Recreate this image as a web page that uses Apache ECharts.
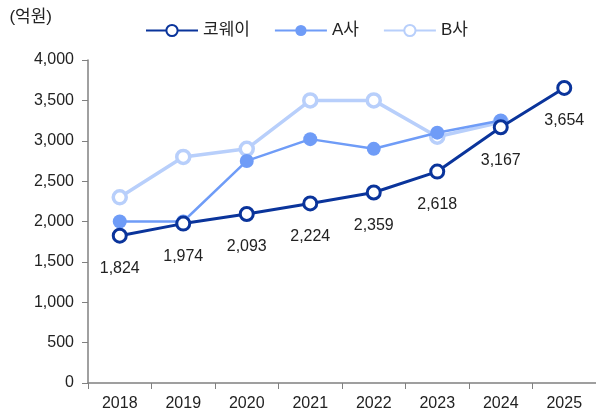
<!DOCTYPE html>
<html>
<head>
<meta charset="utf-8">
<script src="https://cdn.jsdelivr.net/npm/echarts@6/dist/echarts.min.js"></script>
<style>
  html, body { margin: 0; padding: 0; background: #fff; }
  #main { width: 596px; height: 418px; }
</style>
</head>
<body>
<div id="main"></div>
<script>
// 데이터
var years = ['2018', '2019', '2020', '2021', '2022', '2023', '2024', '2025'];
var coway = [1824, 1974, 2093, 2224, 2359, 2618, 3167, 3654];
var compA = [2000, 2000, 2750, 3020, 2900, 3100, 3250, null];
var compB = [2300, 2800, 2900, 3500, 3500, 3050, 3230, null];

var FONT = '"Liberation Sans", Arial, sans-serif';
var KFONT = '"Liberation Sans", "Noto Sans CJK KR", sans-serif';

var myChart = echarts.init(document.getElementById('main'));
myChart.setOption({
    animation: false,
    textStyle: { fontFamily: FONT },
    grid: { left: 88, right: 0, top: 60, bottom: 35 },
    legend: {
        top: 17,
        left: 140,
        itemWidth: 52,
        itemHeight: 14,
        itemGap: 24,
        textStyle: { fontSize: 17, color: '#222', fontFamily: KFONT },
        data: ['코웨이', 'A사', 'B사']
    },
    xAxis: {
        type: 'category',
        data: years,
        axisLine: { lineStyle: { color: '#808080', width: 1.5 } },
        axisTick: { show: true, length: 6, lineStyle: { color: '#808080' } },
        axisLabel: { fontSize: 16, color: '#222', margin: 13, fontFamily: FONT }
    },
    yAxis: {
        type: 'value',
        min: 0,
        max: 4000,
        interval: 500,
        name: '(억원)',
        nameLocation: 'end',
        nameGap: 34,
        nameTextStyle: { fontSize: 17, color: '#222', align: 'right', padding: [0, 36, 0, 0], fontFamily: KFONT },
        axisLine: { show: true, lineStyle: { color: '#808080', width: 1.5 } },
        axisTick: { show: true, length: 6, inside: false, lineStyle: { color: '#808080' } },
        splitLine: { show: false },
        axisLabel: {
            fontSize: 16, color: '#222', margin: 14, fontFamily: FONT,
            formatter: function (v) { return v.toLocaleString('en-US'); }
        }
    },
    series: [
        {
            name: 'B사',
            type: 'line',
            data: compB,
            z: 2,
            symbol: 'circle',
            symbolSize: 13,
            lineStyle: { color: '#b8cffb', width: 3.5 },
            itemStyle: { color: '#ffffff', borderColor: '#b8cffb', borderWidth: 3.5 }
        },
        {
            name: 'A사',
            type: 'line',
            data: compA,
            z: 3,
            symbol: 'circle',
            symbolSize: 14,
            lineStyle: { color: '#6f9cf7', width: 2.5 },
            itemStyle: { color: '#6f9cf7', borderColor: '#6f9cf7', borderWidth: 0 }
        },
        {
            name: '코웨이',
            type: 'line',
            data: coway,
            z: 4,
            symbol: 'circle',
            symbolSize: 13,
            lineStyle: { color: '#0a349b', width: 3 },
            itemStyle: { color: '#ffffff', borderColor: '#0a349b', borderWidth: 3 },
            label: {
                show: true,
                position: 'bottom',
                distance: 17,
                fontSize: 16,
                color: '#222',
                fontFamily: FONT,
                formatter: function (p) { return p.value.toLocaleString('en-US'); }
            }
        }
    ]
});
</script>
</body>
</html>
